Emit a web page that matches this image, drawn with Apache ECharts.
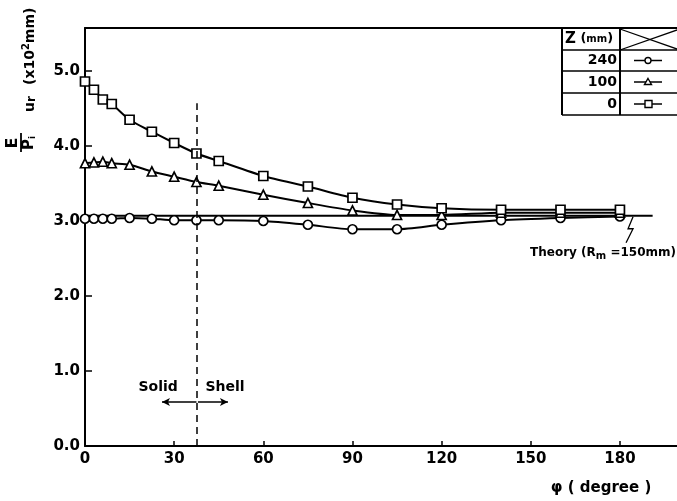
<!DOCTYPE html>
<html><head><meta charset="utf-8">
<script src="https://cdn.jsdelivr.net/npm/echarts@6/dist/echarts.min.js"></script>
<style>html,body{margin:0;padding:0;background:#fff}#c{width:677px;height:501px}</style>
</head><body><div id="c"></div>
<script>
// ---- data ----
const phi  = [0, 3, 6, 9, 15, 22.5, 30, 37.5, 45, 60, 75, 90, 105, 120, 140, 160, 180];
const z0   = [4.86, 4.75, 4.62, 4.56, 4.35, 4.19, 4.04, 3.90, 3.80, 3.60, 3.46, 3.31, 3.22, 3.17, 3.15, 3.15, 3.15];
const z100 = [3.77, 3.78, 3.79, 3.77, 3.75, 3.66, 3.59, 3.52, 3.47, 3.35, 3.24, 3.14, 3.08, 3.08, 3.11, 3.11, 3.11];
const z240 = [3.03, 3.03, 3.03, 3.03, 3.04, 3.03, 3.01, 3.01, 3.01, 3.00, 2.95, 2.89, 2.89, 2.95, 3.01, 3.04, 3.06];
const theoryPhi = [0, 191];
const theoryVal = 3.07;
const xTicks = [0, 30, 60, 90, 120, 150, 180];
const yTicks = [0, 1, 2, 3, 4, 5];
const legendRows = ['240', '100', '0'];
const boundaryPhi = 37.5;      // solid / shell boundary
const boundaryTop = 4.57;
const arrowLevel = 0.587;
const arrowEnds = [25.9, 48.1];

const FONT = 'DejaVu Sans';
const chart = echarts.init(document.getElementById('c'), null, {renderer: 'canvas'});

const mk = (ys) => phi.map((p, i) => [p, ys[i]]);
const lineBase = {
  type: 'line', smooth: 0.25, symbolSize: 9,
  lineStyle: {color: '#000', width: 2},
  itemStyle: {color: '#fff', borderColor: '#000', borderWidth: 1.7},
  z: 3
};

chart.setOption({
  animation: false,
  backgroundColor: '#fff',
  grid: {left: 85, top: 28, right: 0, bottom: 55},
  xAxis: [{
    type: 'value', min: 0, max: 199.2, interval: 30,
    axisLine: {lineStyle: {color: '#000', width: 2}},
    axisTick: {inside: true, length: 5, customValues: xTicks, lineStyle: {color: '#000', width: 1.5}},
    splitLine: {show: false},
    axisLabel: {
      color: '#000', fontFamily: FONT, fontSize: 15, fontWeight: 'bold', margin: 6,
      customValues: xTicks,
      formatter: v => xTicks.includes(v) ? String(v) : ''
    }
  }, {
    type: 'value', position: 'top', min: 0, max: 199.2,
    axisLine: {show: true, lineStyle: {color: '#000', width: 2}},
    axisTick: {show: false}, axisLabel: {show: false}, splitLine: {show: false}
  }],
  yAxis: {
    type: 'value', min: 0, max: 5.573, interval: 1,
    axisLine: {show: true, lineStyle: {color: '#000', width: 2}},
    axisTick: {show: true, inside: true, length: 7, customValues: yTicks, lineStyle: {color: '#000', width: 1.5}},
    splitLine: {show: false},
    axisLabel: {
      color: '#000', fontFamily: FONT, fontSize: 15, fontWeight: 'bold', margin: 5,
      customValues: yTicks,
      formatter: v => yTicks.includes(v) ? v.toFixed(1) : ''
    }
  },
  series: [
    Object.assign({}, lineBase, {name: '240', data: mk(z240), symbol: 'circle'}),
    Object.assign({}, lineBase, {name: '100', data: mk(z100), symbol: 'triangle'}),
    Object.assign({}, lineBase, {name: '0', data: mk(z0), symbol: 'rect'}),
    {
      type: 'line', name: 'theory', symbol: 'none', z: 2,
      data: theoryPhi.map(p => [p, theoryVal]),
      lineStyle: {color: '#000', width: 2},
      markLine: {
        silent: true, symbol: ['none', 'none'], label: {show: false},
        lineStyle: {color: '#000', width: 1.5, type: [7, 5]},
        data: [
          [{coord: [boundaryPhi, 0]}, {coord: [boundaryPhi, boundaryTop]}],
          [{coord: [boundaryPhi, arrowLevel], lineStyle: {type: 'solid', width: 1.5}, symbol: 'none'},
           {coord: [arrowEnds[0], arrowLevel], symbol: 'arrow', symbolSize: [6, 8]}],
          [{coord: [boundaryPhi + 0.5, arrowLevel], lineStyle: {type: 'solid', width: 1.5}, symbol: 'none'},
           {coord: [arrowEnds[1], arrowLevel], symbol: 'arrow', symbolSize: [6, 8]}]
        ]
      }
    }
  ]
});

// ---- annotations ----
const px = (x, y) => chart.convertToPixel({xAxisIndex: 0, yAxisIndex: 0}, [x, y]);
const bold = (size) => ({fontFamily: FONT, fontWeight: 'bold', fontSize: size, fill: '#000'});
const g = [];

// Solid / Shell
const sol = px(24.6, 0.787), she = px(47.1, 0.787);
g.push({type: 'text', x: sol[0], y: sol[1], style: Object.assign(bold(14), {text: 'Solid', align: 'center', verticalAlign: 'middle'})});
g.push({type: 'text', x: she[0], y: she[1], style: Object.assign(bold(14), {text: 'Shell', align: 'center', verticalAlign: 'middle'})});

// Theory label + break mark
const th = px(theoryPhi[1], theoryVal);
const sq = px(183.4, theoryVal);
g.push({type: 'polyline', shape: {points: [[sq[0] + 3, sq[1] + 1], [sq[0] - 2, sq[1] + 13], [sq[0] + 3, sq[1] + 13], [sq[0] - 4, sq[1] + 27]]},
  style: {stroke: '#000', lineWidth: 1.3, fill: null}});
g.push({type: 'text', x: 676, y: th[1] + 37, style: {
  text: '{a|Theory (R}{s|m}{a| =150mm)}', align: 'right', verticalAlign: 'middle',
  rich: {a: bold(12), s: Object.assign(bold(10), {padding: [8, 0, 0, 0]})}
}});

// x axis name
g.push({type: 'text', x: 601, y: 488, style: Object.assign(bold(15), {text: 'φ ( degree )', align: 'center', verticalAlign: 'middle'})});

// y axis name (rotated)
g.push({type: 'group', x: 29, y: 151, rotation: Math.PI / 2, children: [
  {type: 'text', x: 8, y: -16, style: Object.assign(bold(16), {text: 'E', align: 'center', verticalAlign: 'middle'})},
  {type: 'line', shape: {x1: -1, y1: -8, x2: 18, y2: -8}, style: {stroke: '#000', lineWidth: 1.8}},
  {type: 'text', x: 8, y: 0, style: {text: '{p|P}{s|i}', align: 'center', verticalAlign: 'middle',
    rich: {p: bold(15), s: Object.assign(bold(9), {padding: [7, 0, 0, 0]})}}},
  {type: 'text', x: 39, y: 1, style: {text: '{u|u}{r|r}', align: 'left', verticalAlign: 'middle',
    rich: {u: bold(14), r: Object.assign(bold(12), {padding: [3, 0, 0, 0]})}}},
  {type: 'text', x: 66, y: 1, style: {text: '{a|(x10}{s|2}{a|mm)}', align: 'left', verticalAlign: 'middle',
    rich: {a: bold(14), s: Object.assign(bold(10), {padding: [0, 0, 8, 0]})}}}
]});

// legend table
const TL = 562, TD = 620, TR = 690, rowsY = [28, 50, 71, 93, 115];
const L = (x1, y1, x2, y2, w) => ({type: 'line', shape: {x1, y1, x2, y2}, style: {stroke: '#000', lineWidth: w || 1.5}});
rowsY.forEach(y => g.push(L(TL, y, TR, y, y === 28 ? 2 : 1.5)));
g.push(L(TL, 28, TL, 115, 2));
g.push(L(TD, 28, TD, 115, 2));
g.push(L(TD, 29, 680, 50, 1.3));
g.push(L(TD, 50, 680, 29, 1.3));
g.push({type: 'text', x: 565, y: 39, style: {text: '{a|Z}{b| (}{c|mm}{b|)}', align: 'left', verticalAlign: 'middle',
  rich: {a: bold(15), b: bold(13), c: bold(10)}}});
const syms = ['circle', 'triangle', 'rect'];
legendRows.forEach((lab, i) => {
  const yc = (rowsY[i + 1] + rowsY[i + 2]) / 2;
  g.push({type: 'text', x: 617, y: yc, style: Object.assign(bold(14), {text: lab, align: 'right', verticalAlign: 'middle'})});
  g.push(L(634, yc, 662, yc, 1.5));
  let shape;
  if (syms[i] === 'circle') shape = {type: 'circle', shape: {cx: 648, cy: yc, r: 3}};
  else if (syms[i] === 'triangle') shape = {type: 'polygon', shape: {points: [[648, yc - 3.5], [651.5, yc + 2.5], [644.5, yc + 2.5]]}};
  else shape = {type: 'rect', shape: {x: 645, y: yc - 3.5, width: 7, height: 7}};
  shape.style = {fill: '#fff', stroke: '#000', lineWidth: 1.4};
  g.push(shape);
});

chart.setOption({graphic: g});
</script>
</body></html>
